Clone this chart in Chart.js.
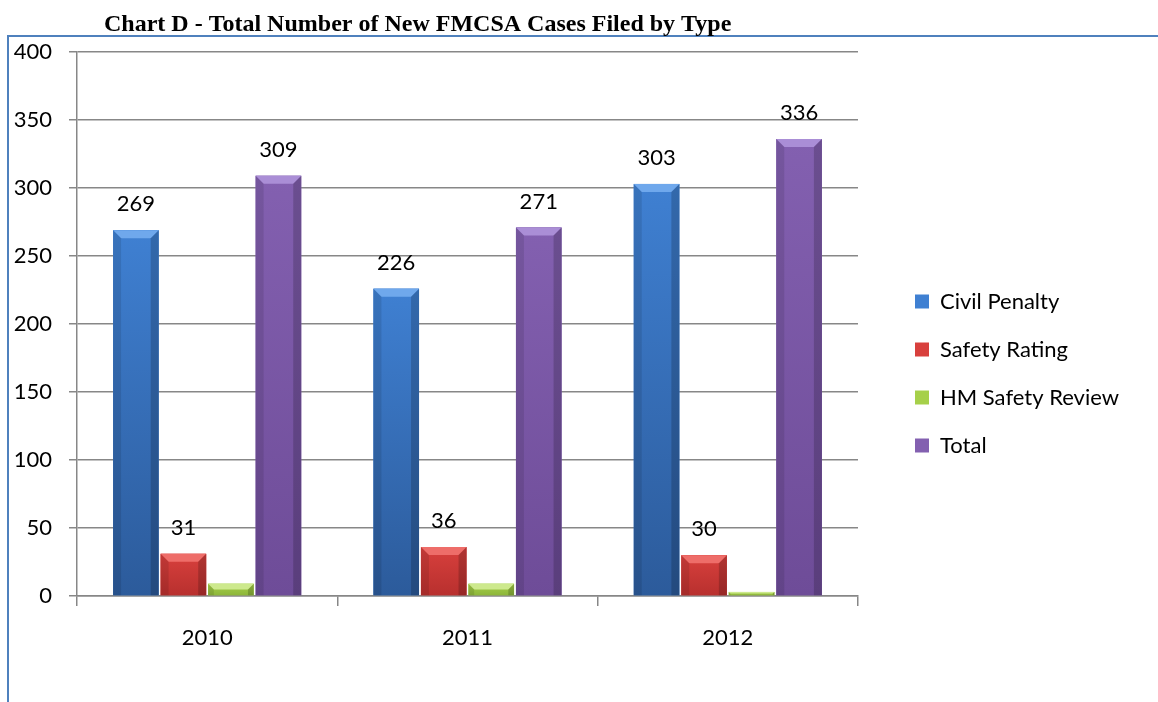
<!DOCTYPE html>
<html>
<head>
<meta charset="utf-8">
<script src="https://cdn.jsdelivr.net/npm/chart.js@4.4.0/dist/chart.umd.min.js"></script>
<style>
  html, body { margin: 0; padding: 0; background: #fff; }
</style>
</head>
<body>
<canvas id="casesChart" width="1158" height="702"></canvas>
<script>
const years = ['2010', '2011', '2012'];
const civilPenalty = [269, 226, 303];
const safetyRating = [31, 36, 30];
const hmSafetyReview = [9, 9, 3];
const total = [309, 271, 336];

const chartTitle = 'Chart D - Total Number of New FMCSA Cases Filed by Type';
const axisFont = { family: 'Lato', size: 22 };
const gridGray = '#878787';

// colours for the bevelled bars: body top, body bottom, bevel
const shades = [
    { top: '#3f80d2', bottom: '#2c5b9b', bevel: '#6fa8ec' },
    { top: '#d8403d', bottom: '#b8302e', bevel: '#ee6d69' },
    { top: '#a6d04a', bottom: '#8db63a', bevel: '#cde98d' },
    { top: '#8360b0', bottom: '#6e4c98', bevel: '#aa8ed6' }
];

// frame + title
const framePlugin = {
    id: 'frame',
    beforeDraw(chart) {
        const ctx = chart.ctx;
        ctx.save();
        ctx.fillStyle = '#fff';
        ctx.fillRect(0, 0, chart.width, chart.height);
        ctx.strokeStyle = '#4f81bd';
        ctx.lineWidth = 2;
        ctx.beginPath();
        ctx.moveTo(8, chart.height);
        ctx.lineTo(8, 36);
        ctx.lineTo(chart.width, 36);
        ctx.stroke();
        ctx.fillStyle = '#000';
        ctx.font = 'bold 24px "Liberation Serif"';
        ctx.textAlign = 'left';
        ctx.textBaseline = 'alphabetic';
        ctx.fillText(chartTitle, 104, 31);
        ctx.restore();
    }
};

// leave a wider gap between plot and legend, like the original
const legendGap = 31;
const legendGapPlugin = {
    id: 'legendGap',
    afterInit(chart) {
        const legend = chart.legend;
        const fit = legend.fit;
        legend.fit = function () {
            fit.call(this);
            this.width += legendGap;
        };
    },
    afterLayout(chart) {
        chart.legend.left += legendGap;
        chart.legend.top -= 7;
    }
};

// repaint bars with a bevel look, then write values above them
const bevelPlugin = {
    id: 'bevel',
    afterDatasetsDraw(chart) {
        const ctx = chart.ctx;
        ctx.save();
        chart.data.datasets.forEach((ds, i) => {
            const meta = chart.getDatasetMeta(i);
            if (meta.hidden) return;
            const c = shades[i];
            meta.data.forEach((bar, j) => {
                const { x, y, base, width } = bar.getProps(['x', 'y', 'base', 'width'], true);
                const l = x - width / 2, r = x + width / 2, h = base - y;
                if (h <= 0) return;
                const b = Math.min(8, h / 2, width / 2);

                const g = ctx.createLinearGradient(0, y, 0, base);
                g.addColorStop(0, c.top);
                g.addColorStop(1, c.bottom);
                ctx.fillStyle = g;
                ctx.fillRect(l, y, width, h);

                // top bevel
                ctx.fillStyle = c.bevel;
                ctx.beginPath();
                ctx.moveTo(l, y);
                ctx.lineTo(r, y);
                ctx.lineTo(r - b, y + b);
                ctx.lineTo(l + b, y + b);
                ctx.closePath();
                ctx.fill();

                // side edges
                ctx.fillStyle = 'rgba(0,0,0,0.18)';
                ctx.beginPath();
                ctx.moveTo(r, y);
                ctx.lineTo(r - b, y + b);
                ctx.lineTo(r - b, base);
                ctx.lineTo(r, base);
                ctx.closePath();
                ctx.fill();
                ctx.fillStyle = 'rgba(0,0,0,0.10)';
                ctx.beginPath();
                ctx.moveTo(l, y);
                ctx.lineTo(l + b, y + b);
                ctx.lineTo(l + b, base);
                ctx.lineTo(l, base);
                ctx.closePath();
                ctx.fill();

                if (ds.showValue) {
                    ctx.fillStyle = '#000';
                    ctx.font = '22px Lato';
                    ctx.textAlign = 'center';
                    ctx.textBaseline = 'middle';
                    ctx.fillText(ds.data[j], x, y - 26);
                }
            });
        });
        ctx.restore();
    }
};

new Chart(document.getElementById('casesChart'), {
    type: 'bar',
    data: {
        labels: years,
        datasets: [
            { label: 'Civil Penalty', data: civilPenalty, backgroundColor: shades[0].top, showValue: true },
            { label: 'Safety Rating', data: safetyRating, backgroundColor: shades[1].top, showValue: true },
            { label: 'HM Safety Review', data: hmSafetyReview, backgroundColor: shades[2].top, showValue: false },
            { label: 'Total', data: total, backgroundColor: shades[3].top, showValue: true }
        ]
    },
    options: {
        responsive: false,
        animation: false,
        events: [],
        categoryPercentage: 0.73,
        barPercentage: 0.96,
        layout: {
            padding: { left: 0, top: 52, right: 29, bottom: 0 }
        },
        scales: {
            x: {
                grid: { drawOnChartArea: false, tickLength: 10, color: gridGray, lineWidth: 1.5 },
                border: { color: gridGray, width: 1.5 },
                ticks: { font: axisFont, color: '#000', padding: 19 },
                afterFit(scale) { scale.height = 106; }
            },
            y: {
                min: 0,
                max: 400,
                ticks: { stepSize: 50, font: axisFont, color: '#000', padding: 17 },
                grid: { tickLength: 8, color: gridGray, lineWidth: 1.5 },
                border: { color: gridGray, width: 1.5 },
                afterFit(scale) { scale.width = 77; }
            }
        },
        plugins: {
            title: { display: false },
            tooltip: { enabled: false },
            legend: {
                position: 'right',
                labels: {
                    font: axisFont,
                    color: '#000',
                    boxWidth: 14,
                    boxHeight: 14,
                    padding: 26
                }
            }
        }
    },
    plugins: [framePlugin, legendGapPlugin, bevelPlugin]
});
</script>
</body>
</html>
